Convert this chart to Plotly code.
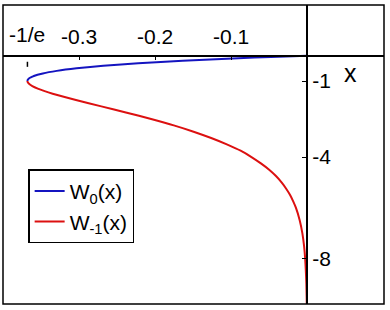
import plotly.graph_objects as go

# Principal branch W0(x): points (x, W)
x_w0 = [-0.36788, -0.36780, -0.36740, -0.36591, -0.36276, -0.35946, -0.34761, -0.32929,
        -0.30327, -0.26813, -0.22225, -0.16375, -0.09048, -0.04756, 0.0]
y_w0 = [-1.0, -0.98, -0.95, -0.9, -0.85, -0.8, -0.7, -0.6,
        -0.5, -0.4, -0.3, -0.2, -0.1, -0.05, 0.0]

# Lower branch W-1(x)
x_wm1 = [-0.36788, -0.36780, -0.36744, -0.36616, -0.36143, -0.35429, -0.34524,
         -0.33470, -0.30410, -0.27067, -0.23715, -0.20521, -0.17546, -0.14936,
         -0.12625, -0.10569, -0.08755, -0.07326, -0.06090, -0.04999, -0.04106,
         -0.03369, -0.02763, -0.02248, -0.01838, -0.01487, -0.00979, -0.00638,
         -0.00415, -0.00268, -0.00111, -0.000454, -0.000184]
y_wm1 = [-1.0, -1.02, -1.05, -1.1, -1.2, -1.3, -1.4,
         -1.5, -1.75, -2.0, -2.25, -2.5, -2.75, -3.0,
         -3.25, -3.5, -3.75, -4.0, -4.25, -4.5, -4.75,
         -5.0, -5.25, -5.5, -5.75, -6.0, -6.5, -7.0,
         -7.5, -8.0, -9.0, -10.0, -11.0]

x_tick_vals = [-0.3, -0.2, -0.1]
x_tick_text = ["-0.3", "-0.2", "-0.1"]
branch_x = -0.36788
branch_label = "-1/e"
y_tick_vals = [-1, -4, -8]
y_tick_text = ["-1", "-4", "-8"]

X_RANGE = [-0.4, 0.101]
Y_RANGE = [-9.8, 2.0]

FONT = "Liberation Sans, Arial, Helvetica, sans-serif"
BLUE = "#1414c0"
RED = "#dc1010"
FS = 21

fig = go.Figure()
fig.add_trace(go.Scatter(x=x_w0, y=y_w0, mode="lines", name="W<sub>0</sub>(x)",
                         line=dict(color=BLUE, width=2, shape="spline", smoothing=0.6),
                         hoverinfo="skip"))
fig.add_trace(go.Scatter(x=x_wm1, y=y_wm1, mode="lines", name="W<sub>-1</sub>(x)",
                         line=dict(color=RED, width=2, shape="spline", smoothing=0.6),
                         hoverinfo="skip"))

x_pos = (0 - Y_RANGE[0]) / (Y_RANGE[1] - Y_RANGE[0])
y_pos = (0 - X_RANGE[0]) / (X_RANGE[1] - X_RANGE[0])

fig.update_layout(
    width=390, height=310,
    margin=dict(l=3, r=6, t=5, b=6),
    paper_bgcolor="white", plot_bgcolor="white",
    font=dict(family=FONT, size=FS, color="black"),
    xaxis=dict(range=X_RANGE, showgrid=False, zeroline=False, showline=True,
               linecolor="black", linewidth=1.5, side="top", anchor="free",
               position=x_pos, ticks="inside", ticklen=4, tickwidth=1.2,
               tickcolor="black", tickvals=x_tick_vals, ticktext=x_tick_text,
               tickfont=dict(size=FS), ticklabelstandoff=3),
    yaxis=dict(range=Y_RANGE, showgrid=False, zeroline=False, showline=True,
               linecolor="black", linewidth=1.5, side="right", anchor="free",
               position=y_pos, ticks="inside", ticklen=4, tickwidth=1.2,
               tickcolor="black", tickvals=y_tick_vals, ticktext=y_tick_text,
               tickfont=dict(size=FS)),
    showlegend=True,
    legend=dict(x=0.066, y=0.45, xanchor="left", yanchor="top",
                bgcolor="white", bordercolor="black", borderwidth=1.5,
                font=dict(size=FS), itemwidth=30, tracegroupgap=0),
    shapes=[
        dict(type="rect", xref="paper", yref="paper", x0=0, x1=1, y0=0, y1=1,
             line=dict(color="black", width=1.5), layer="above"),
        dict(type="line", xref="x", yref="y", x0=branch_x, x1=branch_x,
             y0=-0.24, y1=-0.44, line=dict(color="black", width=1.5)),
    ],
    annotations=[
        dict(x=branch_x, y=0, xref="x", yref="y", text=branch_label,
             showarrow=False, yanchor="bottom", yshift=8, font=dict(size=FS)),
        dict(x=0.057, y=-0.67, xref="x", yref="y", text="x", showarrow=False,
             font=dict(size=25)),
    ],
)

fig.write_html("out.html", config={"displayModeBar": False},
               post_script="document.body.style.margin='0';document.body.style.overflow='hidden';")
